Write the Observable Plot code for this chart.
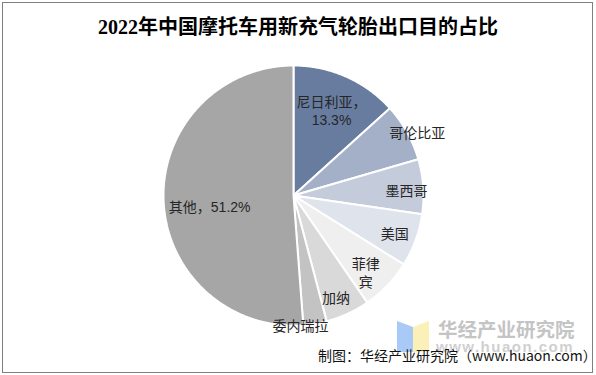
<!DOCTYPE html>
<html>
<head>
<meta charset="utf-8">
<script src="https://cdn.jsdelivr.net/npm/d3@7"></script>
<script src="https://cdn.jsdelivr.net/npm/@observablehq/plot@0.6"></script>
<style>
  html, body { margin: 0; padding: 0; background: #fff; }
  #wrap { position: relative; width: 596px; height: 375px; overflow: hidden; background: #fff; }
  #frame { position: absolute; left: 2px; top: 2px; width: 589px; height: 369px; border: 1px solid #7f7f7f; }
  #title { position: absolute; left: 0; width: 596px; top: 14px; text-align: center;
    font-family: "Liberation Serif", "Noto Sans CJK SC", serif; font-weight: bold; font-size: 20px; color: #000; line-height: 26px; }
  #chart { position: absolute; left: 0; top: 0; }
  #wm { position: absolute; left: 438px; top: 317px; font-family: "Noto Sans CJK SC", sans-serif; font-weight: bold;
    font-size: 19.5px; color: #c4c4c4; line-height: 24px; letter-spacing: 0px; }
  #wm2 { position: absolute; left: 436px; top: 338px; font-family: "Liberation Sans", sans-serif; font-weight: bold;
    font-size: 15px; color: #d0d0d0; letter-spacing: 1.5px; line-height: 18px; }
  #logo { position: absolute; left: 395px; top: 318px; }
  #caption { position: absolute; left: 318px; top: 345px; font-family: "Noto Sans CJK SC", sans-serif;
    font-size: 14px; color: #111; line-height: 20px; white-space: nowrap; }
</style>
</head>
<body>
<div id="wrap">
  <div id="frame"></div>
  <div id="chart"></div>
  <svg id="logo" width="40" height="36">
    <polygon points="2,3 18,9 18,34 2,34" fill="#a9c9f7"/>
    <polygon points="18,9 34,3 34,34 18,34" fill="#fbf0b8"/>
  </svg>
  <div id="wm">华经产业研究院</div>
  <div id="wm2">www.huaon.com</div>
  <div id="caption">制图：华经产业研究院（www.huaon.com）</div>
  <div id="title">2022年中国摩托车用新充气轮胎出口目的占比</div>
</div>
<script>
// ---- data ----
const countries = ["尼日利亚", "哥伦比亚", "墨西哥", "美国", "菲律宾", "加纳", "委内瑞拉", "其他"];
const shares = [13.3, 7.2, 6.8, 6.6, 6.5, 5.5, 2.9, 51.2];
const showPct = [true, false, false, false, false, false, false, true];

// ---- style / layout ----
const sliceColors = ["#687ca0", "#a3b0c8", "#c4cbdb", "#dfe3ec", "#efefef", "#d9d9d9", "#c3c3c3", "#a6a6a6"];
const labelRadius = [0.72, 1.07, 0.87, 0.83, 0.81, 0.85, 1.0, 0.65];
const labelAngleShift = [0, 2, 1.5, 0, 3, 2, 6.5, -5];
const W = 596, H = 375, cx = 293, cy = 195, R = 130;

const total = d3.sum(shares);
let acc = 0;
const slices = countries.map((name, i) => {
  const a0 = acc / total * 360;
  acc += shares[i];
  const a1 = acc / total * 360;
  return {name, i, a0, a1, mid: (a0 + a1) / 2};
});
const rad = d => d * Math.PI / 180;
const pt = (a, r) => ({x: r * Math.sin(rad(a)), y: r * Math.cos(rad(a))});

const marks = slices.map(s => {
  const pts = [{x: 0, y: 0}];
  const n = Math.max(2, Math.ceil((s.a1 - s.a0) / 0.5));
  for (let k = 0; k <= n; k++) pts.push(pt(s.a0 + (s.a1 - s.a0) * k / n, 1));
  pts.push({x: 0, y: 0});
  return Plot.line(pts, {x: "x", y: "y", fill: sliceColors[s.i], stroke: "white", strokeWidth: 2, strokeLinejoin: "miter", curve: "linear"});
});

const labels = slices.map(s => {
  const p = pt(s.mid + labelAngleShift[s.i], labelRadius[s.i]);
  let t = s.name;
  if (s.name === "菲律宾") t = "菲律\n宾";
  if (showPct[s.i]) t = s.name + (s.i === 0 ? "，\n" : "，") + shares[s.i].toFixed(1) + "%";
  return {x: p.x, y: p.y, text: t};
});
marks.push(Plot.text(labels, {x: "x", y: "y", text: "text", fontSize: 14, lineHeight: 1.3, fill: "#262626",
  fontFamily: "'Liberation Sans', 'Noto Sans CJK SC', sans-serif"}));

const chart = Plot.plot({
  width: W, height: H,
  marginTop: 0, marginBottom: 0, marginLeft: 0, marginRight: 0,
  x: {domain: [-cx / R, (W - cx) / R], axis: null},
  y: {domain: [(cy - H) / R, cy / R], axis: null},
  style: {background: "transparent", overflow: "visible"},
  marks
});
document.getElementById("chart").appendChild(chart);
</script>
</body>
</html>
